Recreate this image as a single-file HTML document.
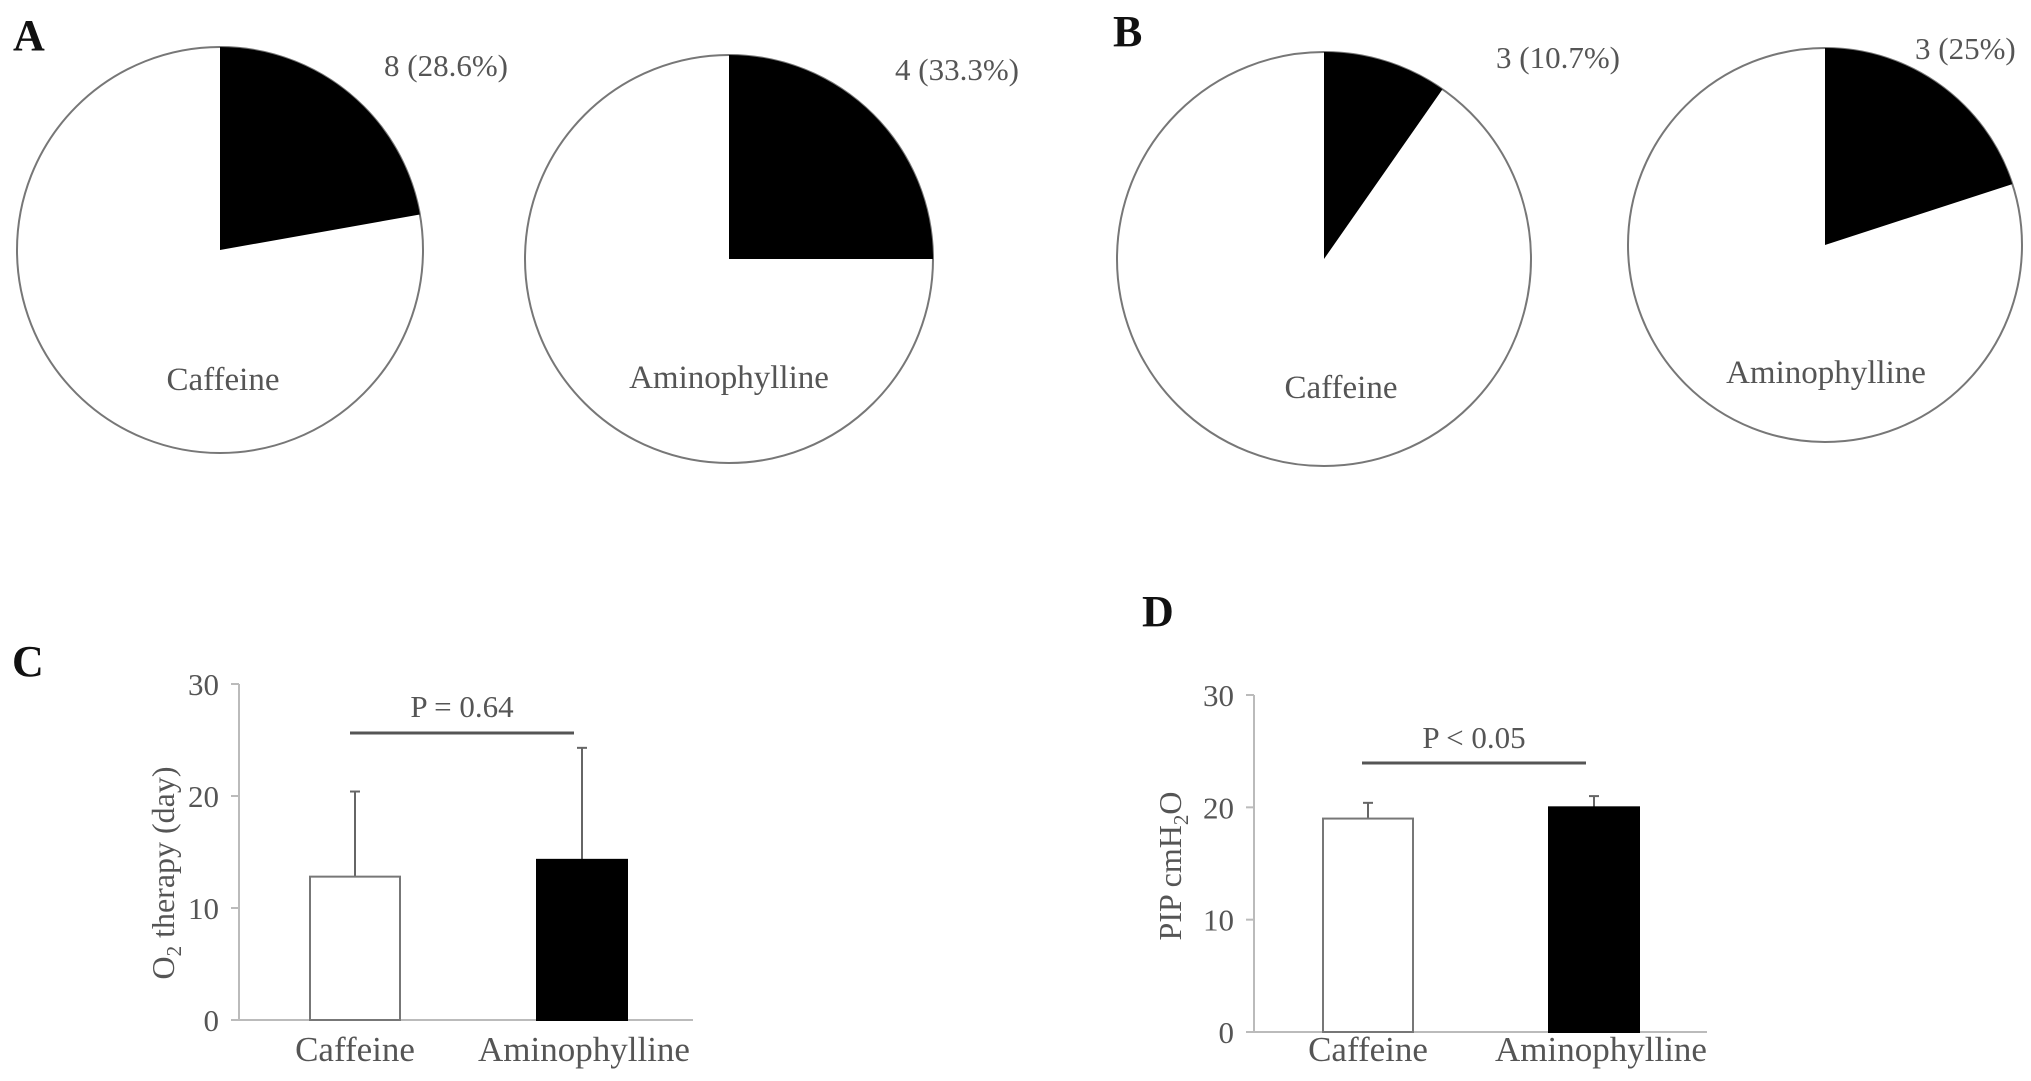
<!DOCTYPE html>
<html><head><meta charset="utf-8">
<style>
html,body{margin:0;padding:0;background:#fff;}
svg{display:block;font-family:"Liberation Serif",serif;}
</style></head>
<body>
<svg id="fig" width="2031" height="1081" viewBox="0 0 2031 1081" xmlns="http://www.w3.org/2000/svg">
<rect width="2031" height="1081" fill="#fff"/>
<text x="13" y="50" font-size="44" font-weight="bold" fill="#111">A</text>
<text x="1113" y="46" font-size="44" font-weight="bold" fill="#111">B</text>
<text x="12" y="676" font-size="44" font-weight="bold" fill="#111">C</text>
<text x="1142" y="626" font-size="44" font-weight="bold" fill="#111">D</text>
<g id="pies"></g>
<g id="bars"></g>
</svg>
<script>
// ---- pie data ----
const pieGroups = ["Caffeine", "Aminophylline", "Caffeine", "Aminophylline"];
const pieSliceFraction = [0.222, 0.25, 0.097, 0.2];
const pieValueLabels = ["8 (28.6%)", "4 (33.3%)", "3 (10.7%)", "3 (25%)"];

// ---- bar chart C data ----
const cCategories = ["Caffeine", "Aminophylline"];
const cMeans = [12.8, 14.3];
const cErrTop = [20.4, 24.3];
const cTicks = [0, 10, 20, 30];
const cPLabel = "P = 0.64";

// ---- bar chart D data ----
const dCategories = ["Caffeine", "Aminophylline"];
const dMeans = [19.0, 20.0];
const dErrTop = [20.4, 21.0];
const dTicks = [0, 10, 20, 30];
const dPLabel = "P < 0.05";

const NS = "http://www.w3.org/2000/svg";
function mk(tag, attrs, parent, text) {
  const e = document.createElementNS(NS, tag);
  for (const k in attrs) e.setAttribute(k, attrs[k]);
  if (text !== undefined) e.textContent = text;
  parent.appendChild(e);
  return e;
}

const pieLayout = [
  {cx: 220, cy: 250, r: 203, lx: 384, ly: 76, nx: 223, ny: 390},
  {cx: 729, cy: 259, r: 204, lx: 895, ly: 80, nx: 729, ny: 388},
  {cx: 1324, cy: 259, r: 207, lx: 1496, ly: 68, nx: 1341, ny: 398},
  {cx: 1825, cy: 245, r: 197, lx: 1915, ly: 59, nx: 1826, ny: 383}
];
const pieG = document.getElementById("pies");
pieGroups.forEach((g, i) => {
  const L = pieLayout[i];
  const grp = mk("g", {}, pieG);
  
  
  const c = mk("circle", {cx: L.cx, cy: L.cy, r: L.r, fill: "#fff", stroke: "#777", "stroke-width": 2}, grp);
  
  
  const a = pieSliceFraction[i] * 2 * Math.PI;
  const ex = L.cx + L.r * Math.sin(a), ey = L.cy - L.r * Math.cos(a);
  const large = pieSliceFraction[i] > 0.5 ? 1 : 0;
  const s = mk("path", {d: `M${L.cx},${L.cy} L${L.cx},${L.cy - L.r} A${L.r},${L.r} 0 ${large} 1 ${ex},${ey} Z`, fill: "#000"}, grp);
  
  
  const vl = mk("text", {x: L.lx, y: L.ly, "font-size": 31, fill: "#555"}, grp, pieValueLabels[i]);
  
  
  const nl = mk("text", {x: L.nx, y: L.ny, "font-size": 33, fill: "#555", "text-anchor": "middle"}, grp, g);
  
  
});

function barChart(cfg) {
  const root = mk("g", {}, document.getElementById("bars"));
  
  
  const y = v => cfg.y0 - (v / 30) * (cfg.y0 - cfg.y30);
  const ax = mk("line", {x1: cfg.ax, y1: y(30), x2: cfg.ax, y2: y(0), stroke: "#bbb", "stroke-width": 2}, root);
  
  
  const xa = mk("line", {x1: cfg.ax, y1: y(0), x2: cfg.axEnd, y2: y(0), stroke: "#bbb", "stroke-width": 2}, root);
  
  
  cfg.ticks.forEach(t => {
    const tk = mk("line", {x1: cfg.ax - 8, y1: y(t), x2: cfg.ax, y2: y(t), stroke: "#bbb", "stroke-width": 2}, root);
    
    
    const tl = mk("text", {x: cfg.ax - 20, y: y(t) + 11, "font-size": 31, fill: "#555", "text-anchor": "end"}, root, String(t));
    
    
  });
  cfg.cats.forEach((c, i) => {
    const bx = cfg.barX[i], bw = cfg.barW;
    const cx = bx + bw / 2;
    const eb = mk("line", {x1: cx, y1: y(cfg.err[i]), x2: cx, y2: y(cfg.means[i]), stroke: "#666", "stroke-width": 2}, root);
    
    
    const ec = mk("line", {x1: cx - 5, y1: y(cfg.err[i]), x2: cx + 5, y2: y(cfg.err[i]), stroke: "#666", "stroke-width": 2}, root);
    
    
    const b = mk("rect", {x: bx, y: y(cfg.means[i]), width: bw, height: y(0) - y(cfg.means[i]),
      fill: i === 0 ? "#fff" : "#000", stroke: i === 0 ? "#777" : "#000", "stroke-width": 2}, root);
    
    
    const cl = mk("text", {x: cfg.labX[i], y: 1061, "font-size": 35, fill: "#555", "text-anchor": "middle"}, root, c);
    
    
  });
  const sl = mk("line", {x1: cfg.sig[0], y1: cfg.sig[2], x2: cfg.sig[1], y2: cfg.sig[2], stroke: "#555", "stroke-width": 3}, root);
  
  
  const pl = mk("text", {x: (cfg.sig[0] + cfg.sig[1]) / 2, y: cfg.pY, "font-size": 31, fill: "#555", "text-anchor": "middle"}, root, cfg.p);
  
  
  return root;
}

barChart({name: "chart-c-o2-therapy", y0: 1020, y30: 684, ax: 239, axEnd: 693, ticks: cTicks,
  cats: cCategories, means: cMeans, err: cErrTop, barX: [310, 537], barW: 90, labX: [355, 584],
  sig: [350, 574, 733], pY: 717, p: cPLabel});
const yc = mk("text", {transform: "translate(174,873) rotate(-90)", "font-size": 32, fill: "#555", "text-anchor": "middle"}, document.getElementById("bars"));


mk("tspan", {}, yc, "O");
mk("tspan", {dy: 7, "font-size": 21}, yc, "2");
mk("tspan", {dy: -7}, yc, " therapy (day)");

barChart({name: "chart-d-pip", y0: 1032, y30: 695, ax: 1254, axEnd: 1707, ticks: dTicks,
  cats: dCategories, means: dMeans, err: dErrTop, barX: [1323, 1549], barW: 90, labX: [1368, 1601],
  sig: [1362, 1586, 763], pY: 748, p: dPLabel});
const yd = mk("text", {transform: "translate(1181,866) rotate(-90)", "font-size": 32, fill: "#555", "text-anchor": "middle"}, document.getElementById("bars"));


mk("tspan", {}, yd, "PIP cmH");
mk("tspan", {dy: 7, "font-size": 21}, yd, "2");
mk("tspan", {dy: -7}, yd, "O");
</script>
</body></html>
